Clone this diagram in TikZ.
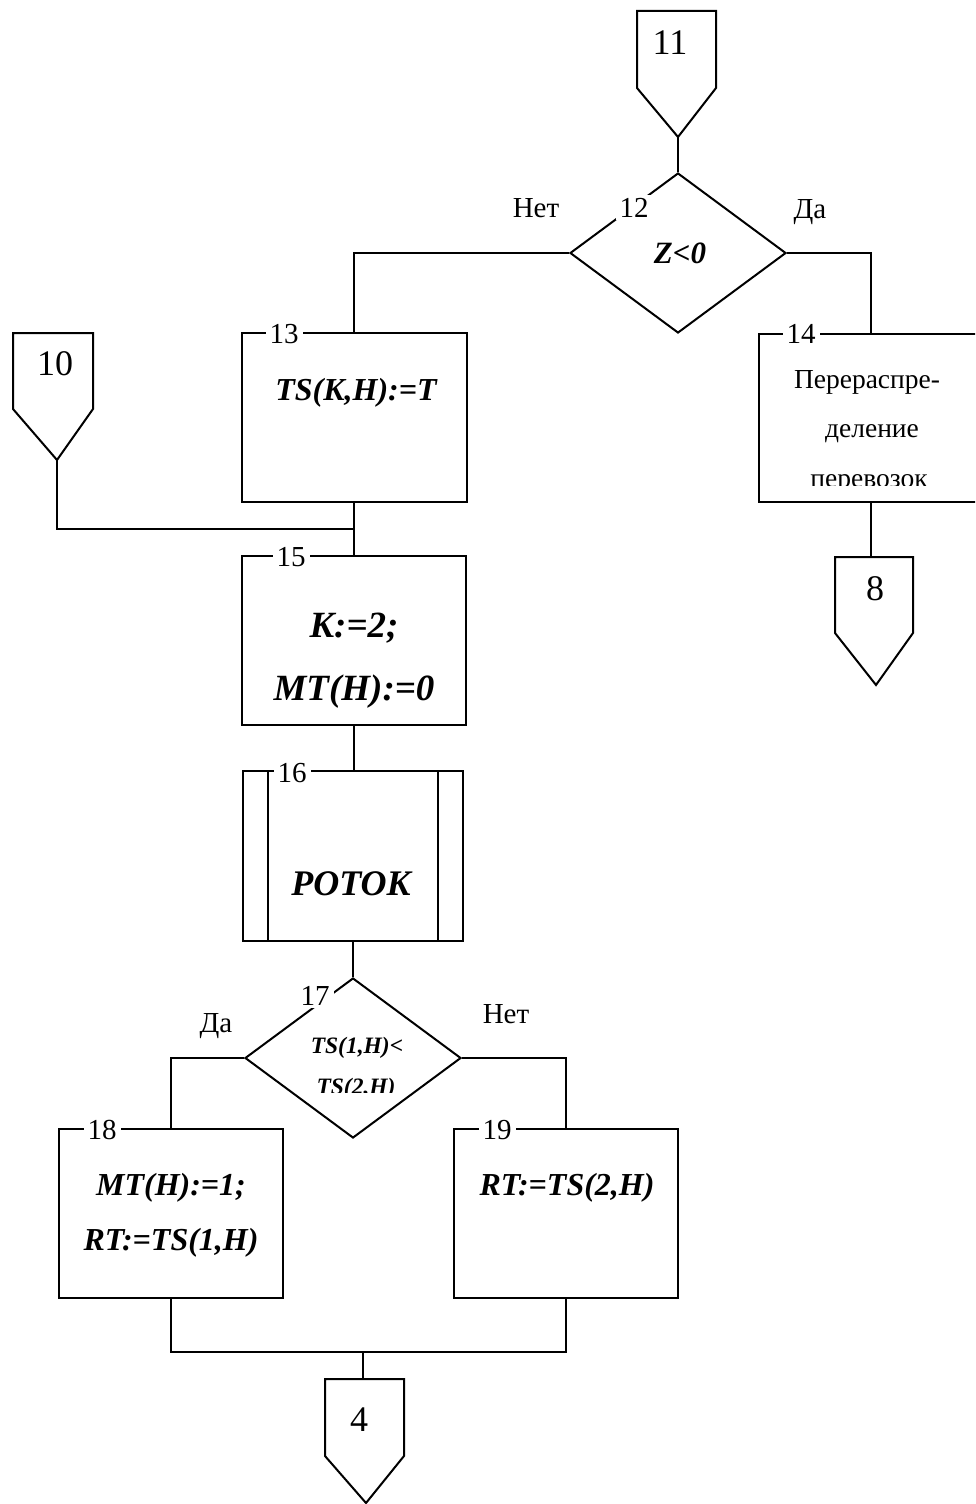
\documentclass[tikz,border=0pt]{standalone}
\usepackage{fontspec}
\setmainfont{Liberation Serif}
\usetikzlibrary{shapes.geometric}
\begin{document}
\begin{tikzpicture}[x=0.5pt,y=-0.5pt,line width=1pt,line join=miter,
  box/.style={draw,rectangle,inner sep=0pt},
  dia/.style={draw,diamond,inner sep=0pt,minimum width=108pt,minimum height=80pt},
  txt/.style={anchor=base,inner sep=0pt},
  lbl/.style={anchor=base,fill=white,inner xsep=2pt,inner ysep=1.5pt,font=\fontsize{14.5}{16}\selectfont},
  big/.style={txt,font=\fontsize{18}{20}\selectfont},
  formula/.style={txt,font=\fontsize{#1}{#1}\selectfont\bfseries\itshape},
  yn/.style={txt,font=\fontsize{14.5}{16}\selectfont},
  plain/.style={txt,font=\fontsize{13.75}{15}\selectfont}]
\useasboundingbox (0,0) rectangle (975,1504);
\fill[white] (0,0) rectangle (975,1504);
\clip (0,0) rectangle (975,1504);

% off-page connectors
\draw (637,11) -- (716,11) -- (716,88) -- (678,137) -- (637,88) -- cycle;
\coordinate (c11tip) at (678,137);
\node[big] (t11) at (670,55) {11};

\draw (13,333) -- (93,333) -- (93,409) -- (57,460) -- (13,409) -- cycle;
\coordinate (c10tip) at (57,460);
\node[big] (t10) at (55,375) {10};

\draw (835,557) -- (913,557) -- (913,633) -- (876,685) -- (835,633) -- cycle;
\coordinate (c8top) at (871,557);
\node[big] (t8) at (875,600) {8};

\draw (325,1379) -- (404,1379) -- (404,1456) -- (366,1503) -- (325,1456) -- cycle;
\coordinate (c4top) at (363,1379);
\node[big] (t4) at (359,1431) {4};

% blocks
\node[dia] (d12) at (678,253) {};
\node[box,minimum width=112.5pt,minimum height=84.5pt] (b13) at (354,417.5) {};
\node[box,minimum width=112pt,minimum height=84pt] (b14) at (871,418) {};
\node[box,minimum width=112pt,minimum height=84.5pt] (b15) at (354,640.5) {};
\node[box,minimum width=110pt,minimum height=85pt] (b16) at (353,856) {};
\draw ([xshift=13pt]b16.north west) -- ([xshift=13pt]b16.south west);
\draw ([xshift=-13pt]b16.north east) -- ([xshift=-13pt]b16.south east);
\node[dia] (d17) at (353,1058) {};
\node[box,minimum width=112pt,minimum height=84.5pt] (b18) at (171,1213.5) {};
\node[box,minimum width=112pt,minimum height=84.5pt] (b19) at (566,1213.5) {};

% connectors
\coordinate (j1) at (354,529);
\coordinate (j2) at (363,1352);
\draw (c11tip) -- (d12.north);
\draw (d12.west) -| (b13.north);
\draw (d12.east) -| (b14.north);
\draw (b14.south) -- (c8top);
\draw (c10tip) |- (j1);
\draw (b13.south) -- (b15.north);
\draw (b15.south) -- (b15.south |- b16.north);
\draw (b16.south) -- (d17.north);
\draw (d17.west) -| (b18.north);
\draw (d17.east) -| (b19.north);
\draw (b18.south) |- (j2) -| (b19.south);
\draw (j2) -- (c4top);

% number labels
\node[lbl] (l12) at (634,217) {12};
\node[lbl] (l13) at (284,343) {13};
\node[lbl] (l14) at (801,343) {14};
\node[lbl] (l15) at (291,566) {15};
\node[lbl] (l16) at (292,782) {16};
\node[lbl] (l17) at (315,1005) {17};
\node[lbl] (l18) at (102,1139) {18};
\node[lbl] (l19) at (497,1139) {19};

% yes / no
\node[yn] (n12) at (536,217) {Нет};
\node[yn] (y12) at (810,218) {Да};
\node[yn] (y17) at (216,1032) {Да};
\node[yn] (n17) at (506,1023) {Нет};

% texts
\node[formula=15.5] (tz) at (680,263) {Z<0};
\node[formula=16] (t13) at (356,400) {TS(K,H):=T};
\node[plain] (t14a) at (867,388) {Перераспре-};
\node[plain] (t14b) at (872,437) {деление};
\begin{scope}
\clip (740,440) rectangle (975,485);
\node[plain] (t14c) at (869,487) {перевозок};
\end{scope}
\node[formula=18.5] (t15a) at (354,637) {K:=2;};
\node[formula=18.5] (t15b) at (354,700) {MT(H):=0};
\node[formula=18] (t16) at (351,895) {POTOK};
\node[formula=11.75] (t17a) at (357,1053) {TS(1,H)<};
\begin{scope}
\clip (280,1060) rectangle (440,1092);
\node[formula=11.75] (t17b) at (356,1094) {TS(2,H)};
\end{scope}
\node[formula=16] (t18a) at (171,1195) {MT(H):=1;};
\node[formula=16] (t18b) at (171,1250) {RT:=TS(1,H)};
\node[formula=16] (t19) at (567,1195) {RT:=TS(2,H)};
\end{tikzpicture}
\end{document}
